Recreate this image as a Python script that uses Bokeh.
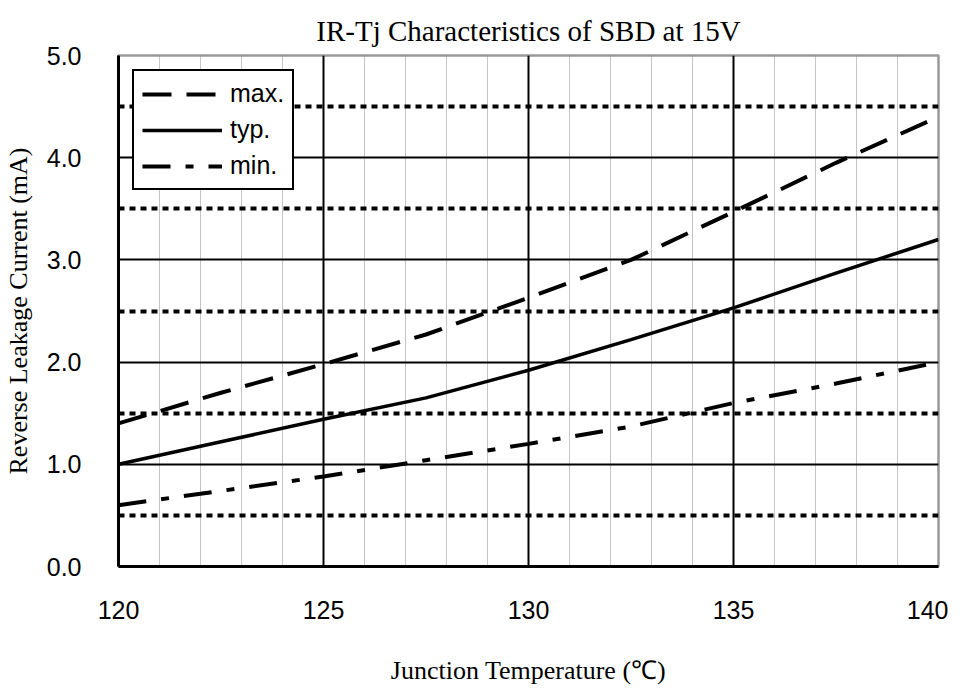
from bokeh.plotting import figure
from bokeh.models import FixedTicker, Grid, NumeralTickFormatter, Legend, LegendItem, Range1d
from bokeh.embed import file_html
from bokeh.resources import INLINE

temps = [120, 122.5, 125, 127.5, 130, 132.5, 135, 137.5, 140]
ir_max = [1.40, 1.70, 1.98, 2.27, 2.63, 3.00, 3.47, 3.95, 4.40]
ir_typ = [1.00, 1.22, 1.44, 1.65, 1.92, 2.22, 2.53, 2.87, 3.20]
ir_min = [0.60, 0.74, 0.88, 1.04, 1.20, 1.37, 1.60, 1.79, 2.00]

x_ticks = [120, 125, 130, 135, 140]
y_ticks = [0, 1, 2, 3, 4, 5]
x_major = [125, 130, 135]
x_minor = [121, 122, 123, 124, 126, 127, 128, 129, 131, 132, 133, 134, 136, 137, 138, 139]
y_major = [1, 2, 3, 4]
y_dotted = [0.5, 1.5, 2.5, 3.5, 4.5]

p = figure(width=948, height=687, output_backend="svg", toolbar_location=None,
           x_range=Range1d(120, 140), y_range=Range1d(0, 5),
           min_border_left=118, min_border_right=10, min_border_top=55, min_border_bottom=120)

p.title.text = "IR-Tj Characteristics of SBD at 15V"
p.title.align = "center"
p.title.text_font = "Liberation Serif"
p.title.text_font_size = "29px"
p.title.text_font_style = "normal"
p.title.text_color = "black"
p.title.text_line_height = 1.0
p.title.offset = 0
p.title.standoff = 18

p.outline_line_color = "#999999"
p.outline_line_width = 2.5

p.xgrid.visible = False
p.ygrid.visible = False

p.add_layout(Grid(dimension=0, ticker=FixedTicker(ticks=x_minor), grid_line_color="#8a8a8a",
                  grid_line_width=1, grid_line_dash="1 1"))
p.add_layout(Grid(dimension=0, ticker=FixedTicker(ticks=x_major), grid_line_color="black",
                  grid_line_width=2))
p.add_layout(Grid(dimension=1, ticker=FixedTicker(ticks=y_major), grid_line_color="black",
                  grid_line_width=2))
p.add_layout(Grid(dimension=1, ticker=FixedTicker(ticks=y_dotted), grid_line_color="black",
                  grid_line_width=4, grid_line_dash="6 5"))

r_max = p.line(temps, ir_max, line_color="black", line_width=4, line_dash="29 15")
r_typ = p.line(temps, ir_typ, line_color="black", line_width=3.5)
r_min = p.line(temps, ir_min, line_color="black", line_width=4, line_dash="28 15 8 15")

p.xaxis.ticker = FixedTicker(ticks=x_ticks)
p.yaxis.ticker = FixedTicker(ticks=y_ticks)
p.yaxis.formatter = NumeralTickFormatter(format="0.0")
for ax in (p.xaxis, p.yaxis):
    ax.major_tick_line_color = None
    ax.minor_tick_line_color = None
    ax.axis_line_color = "black"
    ax.axis_line_width = 3
    ax.major_label_text_font = "Liberation Sans"
    ax.major_label_text_font_size = "25px"
    ax.major_label_text_color = "black"
    ax.axis_label_text_font = "Liberation Serif"
    ax.axis_label_text_font_size = "26px"
    ax.axis_label_text_font_style = "normal"
    ax.axis_label_text_color = "black"

p.xaxis.major_label_standoff = 28
p.yaxis.major_label_standoff = 31
p.xaxis.axis_label = "Junction Temperature (\u2103)"
p.xaxis.axis_label_standoff = 34
p.yaxis.axis_label = "Reverse Leakage Current (mA)"
p.yaxis.axis_label_standoff = 11

legend = Legend(items=[LegendItem(label="max.", renderers=[r_max]),
                       LegendItem(label="typ.", renderers=[r_typ]),
                       LegendItem(label="min.", renderers=[r_min])],
                location="top_left")
legend.border_line_color = "black"
legend.border_line_alpha = 1
legend.border_line_width = 2
legend.label_text_font = "Liberation Sans"
legend.label_text_font_size = "25px"
legend.label_text_color = "black"
legend.glyph_width = 80
legend.glyph_height = 26
legend.label_height = 26
legend.spacing = 7
legend.padding = 8
legend.margin = 14
legend.label_standoff = 8
legend.background_fill_alpha = 1
p.add_layout(legend)

open("out.html", "w").write(file_html(p, INLINE))
